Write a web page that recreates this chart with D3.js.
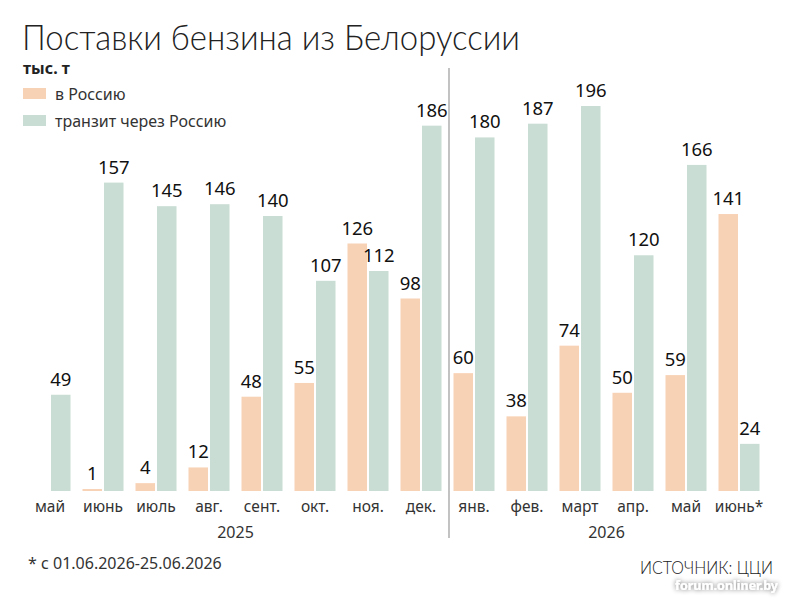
<!DOCTYPE html>
<html>
<head>
<meta charset="utf-8">
<script src="https://cdn.jsdelivr.net/npm/d3@7"></script>
<style>
  body { margin: 0; background: #fff; }
  svg { display: block; }
  .title { font-family: Lato, "Open Sans", sans-serif; font-weight: 300; }
  .lbl { font-family: "Noto Sans", "Open Sans", sans-serif; }
</style>
</head>
<body>
<svg id="chart" width="800" height="607"></svg>
<script>
// месяцы
var months = ["май", "июнь", "июль", "авг.", "сент.", "окт.", "ноя.", "дек.",
              "янв.", "фев.", "март", "апр.", "май", "июнь*"];
var monthKeys = months.map(function(m, i){ return i + "_" + m; });
var toRussia = [0, 1, 4, 12, 48, 55, 126, 98, 60, 38, 74, 50, 59, 141];
var transit = [49, 157, 145, 146, 140, 107, 112, 186, 180, 187, 196, 120, 166, 24];
var years = [{label: "2025", from: 0, to: 7}, {label: "2026", from: 8, to: 13}];
var seriesNames = ["в Россию", "транзит через Россию"];
var colors = ["#f8d2b5", "#c9ddd4"];

var svg = d3.select("#chart");
var baseY = 491;

var x0 = d3.scaleBand().domain(monthKeys).range([23.5, 765.5]).padding(0);
var x1 = d3.scaleBand().domain(["ru", "tr"]).range([0, x0.bandwidth()])
    .paddingInner(0.093).paddingOuter(0.279);
var y = d3.scaleLinear().domain([0, 196]).range([baseY, 106]);

// заголовок
svg.append("text").attr("class", "title").attr("x", 22).attr("y", 50)
    .attr("font-size", "36px").attr("fill", "#222")
    .attr("textLength", 498).attr("lengthAdjust", "spacingAndGlyphs")
    .text("Поставки бензина из Белоруссии");
svg.append("text").attr("class", "lbl").attr("x", 23).attr("y", 74)
    .attr("font-size", "16px").attr("font-weight", "bold").attr("fill", "#222")
    .text("тыс. т");

// легенда
seriesNames.forEach(function(name, i){
    var ly = 88 + i * 27;
    svg.append("rect").attr("x", 23).attr("y", ly).attr("width", 23).attr("height", 11)
        .attr("fill", colors[i]);
    svg.append("text").attr("class", "lbl").attr("x", 55).attr("y", ly + 12)
        .attr("font-size", "16px").attr("fill", "#333").text(name);
});

// разделитель годов
svg.append("line").attr("x1", 449).attr("x2", 449).attr("y1", 68).attr("y2", 538)
    .attr("stroke", "#9a9a9a").attr("stroke-width", 1.2);

var rows = monthKeys.map(function(k, i){
    return {key: k, vals: [{s: "ru", v: toRussia[i]}, {s: "tr", v: transit[i]}]};
});

var g = svg.append("g");
var groups = g.selectAll("g.month").data(rows).enter().append("g")
    .attr("class", "month")
    .attr("transform", function(d){ return "translate(" + x0(d.key) + ",0)"; });

groups.selectAll("rect").data(function(d){ return d.vals.filter(function(e){ return e.v > 0; }); })
    .enter().append("rect")
    .attr("x", function(d){ return x1(d.s); })
    .attr("width", x1.bandwidth())
    .attr("y", function(d){ return y(d.v); })
    .attr("height", function(d){ return Math.max(baseY - y(d.v), 1.5); })
    .attr("fill", function(d){ return d.s == "ru" ? colors[0] : colors[1]; });

groups.selectAll("text.val").data(function(d){ return d.vals.filter(function(e){ return e.v > 0; }); })
    .enter().append("text")
    .attr("class", "lbl val")
    .attr("x", function(d){ return x1(d.s) + x1.bandwidth() / 2; })
    .attr("y", function(d){ return Math.min(y(d.v), baseY - 1.5) - 9; })
    .attr("text-anchor", "middle")
    .attr("font-size", "18.5px").attr("fill", "#111")
    .text(function(d){ return d.v; });

// подписи месяцев
var xAxis = d3.axisBottom(x0).tickSize(0).tickPadding(0)
    .tickFormat(function(k){ return k.split("_")[1]; });
var ax = svg.append("g").attr("transform", "translate(0," + (baseY + 21) + ")").call(xAxis);
ax.select(".domain").remove();
ax.selectAll("text").attr("class", "lbl").attr("font-size", "15.5px").attr("fill", "#333")
    .attr("dy", 0);

years.forEach(function(yr){
    var cx = (x0(monthKeys[yr.from]) + x0(monthKeys[yr.to]) + x0.bandwidth()) / 2;
    svg.append("text").attr("class", "lbl").attr("x", cx).attr("y", 538)
        .attr("text-anchor", "middle").attr("font-size", "16px").attr("fill", "#333")
        .text(yr.label);
});

// примечание и источник
svg.append("text").attr("class", "lbl").attr("x", 28).attr("y", 569)
    .attr("font-size", "16px").attr("fill", "#333").text("* с 01.06.2026-25.06.2026");
svg.append("text").attr("class", "title").attr("x", 773).attr("y", 574)
    .attr("text-anchor", "end").attr("font-size", "18px").attr("font-weight", 400).attr("fill", "#222")
    .attr("textLength", 133).attr("lengthAdjust", "spacingAndGlyphs")
    .text("ИСТОЧНИК: ЦЦИ");

var defs = svg.append("defs");
var f = defs.append("filter").attr("id", "wm").attr("x", "-10%").attr("y", "-40%")
    .attr("width", "120%").attr("height", "180%");
f.append("feGaussianBlur").attr("in", "SourceAlpha").attr("stdDeviation", 2.5);
f.append("feComponentTransfer").append("feFuncA").attr("type", "linear").attr("slope", 0.6);
var merge = f.append("feMerge");
merge.append("feMergeNode");
merge.append("feMergeNode").attr("in", "SourceGraphic");
svg.append("text").attr("class", "lbl").attr("x", 778).attr("y", 590)
    .attr("text-anchor", "end").attr("font-size", "12.5px").attr("font-weight", "bold")
    .attr("fill", "#fff").attr("filter", "url(#wm)").text("forum.onliner.by");
</script>
</body>
</html>
